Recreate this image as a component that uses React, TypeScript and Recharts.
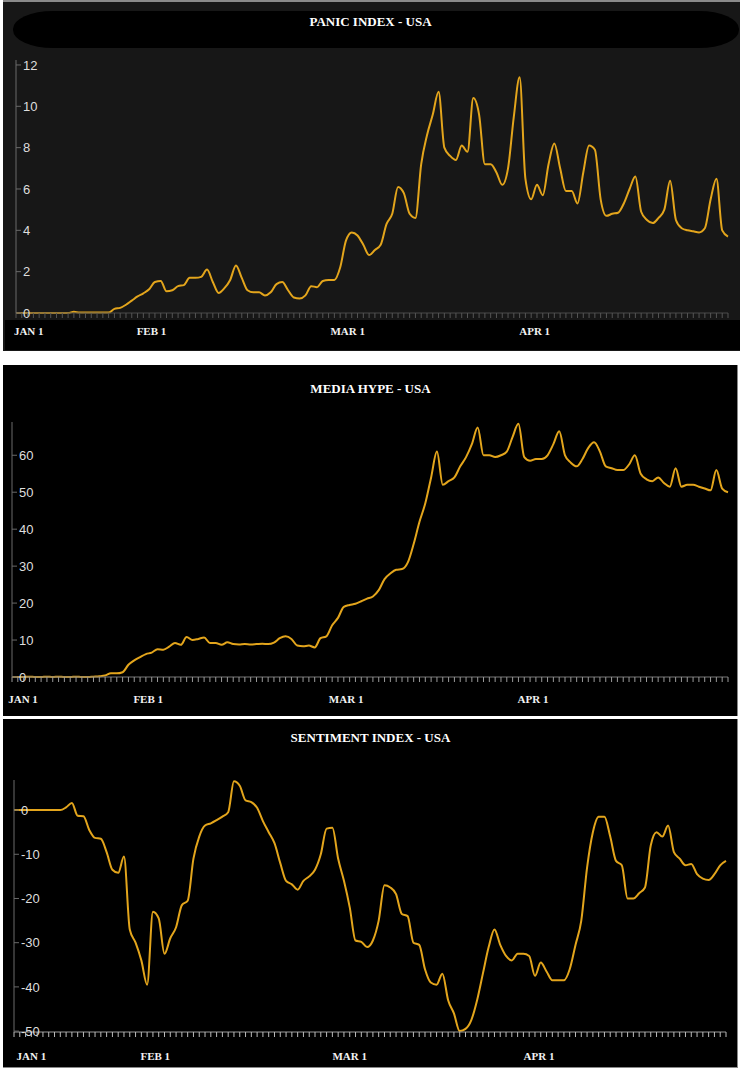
import React from "react";
import { LineChart, Line, XAxis, YAxis } from "recharts";

// one point per day, 124 days
const dayIndex = Array.from({ length: 124 }, (_, i) => i);

const monthLabels = ["JAN 1", "FEB 1", "MAR 1", "APR 1"];

// where each month label sits on the day axis (per panel, as drawn)
const panicMonthAt = [2.2, 23.4, 57.3, 89.6];
const mediaMonthAt = [1.9, 23.4, 57.4, 89.5];
const sentimentMonthAt = [3.0, 24.4, 58.0, 90.7];

const panicIndex = [
  0, 0, 0, 0, 0, 0, 0, 0, 0, 0,
  0.06, 0.02, 0.02, 0.02, 0.02, 0.02, 0.02, 0.2, 0.25, 0.4,
  0.6, 0.8, 0.95, 1.15, 1.5, 1.55, 1.05, 1.1, 1.3, 1.35,
  1.7, 1.7, 1.75, 2.1, 1.5, 0.97, 1.2, 1.6, 2.3, 1.7,
  1.1, 1.0, 1.0, 0.85, 1.0, 1.4, 1.5, 1.1, 0.75, 0.7,
  0.85, 1.3, 1.25, 1.55, 1.6, 1.6, 2.2, 3.5, 3.9, 3.75,
  3.3, 2.8, 3.05, 3.3, 4.3, 4.8, 6.1, 5.8, 4.8, 4.6,
  7.2, 8.6, 9.6, 10.7, 8.0, 7.6, 7.4, 8.1, 7.8, 10.4,
  9.6, 7.2, 7.2, 6.8, 6.2, 7.0, 9.5, 11.4, 6.5, 5.5,
  6.2, 5.7, 7.2, 8.2, 7.0, 5.9, 5.9, 5.3, 6.8, 8.1,
  7.9, 5.5, 4.7, 4.8, 4.85, 5.3, 6.0, 6.6, 4.9, 4.5,
  4.35, 4.6, 5.0, 6.4, 4.5, 4.1, 4.0, 3.95, 3.9, 4.1,
  5.5, 6.5, 4.0, 3.7,
];

const mediaHype = [
  0, 0, 0, 0.1, 0, 0, 0.1, 0, 0.1, 0,
  0, 0.1, 0, 0, 0.1, 0.2, 0.4, 1.0, 1.0, 1.3,
  3.3, 4.5, 5.4, 6.2, 6.6, 7.5, 7.4, 8.2, 9.2, 8.7,
  10.8, 10.0, 10.3, 10.7, 9.2, 9.2, 8.7, 9.4, 8.9, 8.8,
  8.9, 8.8, 8.9, 9.0, 8.9, 9.3, 10.5, 11.0, 10.3, 8.5,
  8.3, 8.5, 8.0, 10.5, 11.0, 14.0, 16.0, 19.0, 19.5, 19.8,
  20.5, 21.2, 21.8, 23.5, 26.5, 28.0, 29.0, 29.2, 31.0, 36.0,
  42, 47, 54, 61, 52, 53, 54, 57, 59.5, 63,
  67.5, 60, 60, 59.5, 60, 61, 65, 68.5, 59.5, 58.5,
  59, 59, 60, 63, 66.5, 60, 58, 57, 59, 62,
  63.5, 61, 57, 56.5, 56, 56, 57.5, 60, 55, 53.5,
  53, 54, 52.5, 51.5, 56.5, 51.5, 52, 52, 51.5, 51,
  50.5, 56, 51, 50,
];

const sentimentIndex = [
  0, 0, 0, 0, 0, 0, 0, 0, 0, 0.6,
  1.6, -1.3, -1.4, -4.5, -6.3, -6.5, -9.5, -13.5, -14.2, -10.5,
  -27, -30, -34, -39.5, -23, -24.5, -32.5, -29, -26.5, -21.5,
  -20.5, -11, -6, -3.5, -3, -2.3, -1.5, -0.5, 6.5, 5.5,
  2.2, 1.8, 0.5, -2.5, -5, -7.5, -12, -16, -16.8, -18,
  -16, -15, -13.5, -10, -4.2, -4, -11, -16, -22, -29.5,
  -29.8, -31, -29.5, -25, -17, -17.5, -19, -23.5, -24, -30,
  -30.5, -36, -39, -39.5, -37, -43, -46, -50, -49.5, -47.5,
  -43, -37, -31, -27, -30.5, -33, -34, -32.5, -32.5, -33,
  -37.5, -34.5, -36.5, -38.5, -38.5, -38.5, -36, -30.5, -25, -13,
  -5, -1.5, -1.5, -6, -11.5, -12.5, -20, -20, -18.8, -17.5,
  -8, -5, -6, -3.5, -9.5, -11, -12.5, -12.2, -14.5, -15.5,
  -15.8, -14.5, -12.5, -11.5,
];

const panicTicks = [0, 2, 4, 6, 8, 10, 12];
const mediaTicks = [0, 10, 20, 30, 40, 50, 60];
const sentimentTicks = [-50, -40, -30, -20, -10, 0];

const LINE_COLOR = "#e3a51c";
const SANS = "'Liberation Sans', Arial, sans-serif";
const SERIF = "'Liberation Serif', 'Times New Roman', serif";

type PanelChartProps = {
  values: number[];
  top: number;
  height: number;
  margin: { top: number; right: number; bottom: number; left: number };
  yDomain: [number, number];
  yTicks: number[];
  monthAt: number[];
  monthMargin: number;
  monthHeight: number;
  axisColor: string;
  tickColor: string;
};

function PanelChart({
  values,
  top,
  height,
  margin,
  yDomain,
  yTicks,
  monthAt,
  monthMargin,
  monthHeight,
  axisColor,
  tickColor,
}: PanelChartProps) {
  const data = dayIndex.map((d, i) => ({ day: d, value: values[i] }));

  return (
    <div style={{ position: "absolute", left: 0, top }}>
      <LineChart width={741} height={height} data={data} margin={margin}>
        {/* daily tick marks, no text */}
        <XAxis
          dataKey="day"
          type="number"
          domain={[0, 123]}
          ticks={dayIndex}
          interval={0}
          tickFormatter={() => ""}
          tickSize={5}
          height={8}
          stroke={axisColor}
          tickLine={{ stroke: tickColor }}
        />
        {/* month labels */}
        <XAxis
          xAxisId="months"
          type="number"
          domain={[0, 123]}
          ticks={monthAt}
          interval={0}
          axisLine={false}
          tickLine={false}
          tickSize={0}
          tickMargin={monthMargin}
          height={monthHeight}
          tickFormatter={(v: number) => monthLabels[monthAt.indexOf(v)] ?? ""}
          tick={{
            fill: "#f2f2f2",
            fontSize: 11,
            fontWeight: 700,
            fontFamily: SERIF,
          }}
        />
        <YAxis
          mirror
          type="number"
          domain={yDomain}
          ticks={yTicks}
          interval={0}
          stroke="#6a6a6a"
          tickSize={5}
          tick={{ fill: "#dedede", fontSize: 13, fontFamily: SANS }}
        />
        <Line
          dataKey="value"
          type="monotone"
          stroke={LINE_COLOR}
          strokeWidth={2}
          dot={false}
          isAnimationActive={false}
        />
      </LineChart>
    </div>
  );
}

function Title({ text, top }: { text: string; top: number }) {
  return (
    <div
      style={{
        position: "absolute",
        left: 0,
        width: 741,
        top,
        textAlign: "center",
        color: "#fff",
        fontFamily: SERIF,
        fontWeight: 700,
        fontSize: 13,
        lineHeight: "16px",
      }}
    >
      {text}
    </div>
  );
}

export default function App() {
  return (
    <div
      style={{
        position: "absolute",
        left: 0,
        top: 0,
        width: 741,
        height: 1072,
        background: "#fff",
        overflow: "hidden",
      }}
    >
      {/* panel 1 */}
      <div
        style={{
          position: "absolute",
          left: 3,
          top: 0,
          width: 737,
          height: 351,
          background: "#171717",
          borderTop: "2px solid #8a8a8a",
          boxSizing: "border-box",
        }}
      />
      <div
        style={{
          position: "absolute",
          left: 13,
          top: 11,
          width: 726,
          height: 37,
          background: "#000",
          borderRadius: "40px / 18px",
        }}
      />
      <div
        style={{
          position: "absolute",
          left: 5,
          top: 320,
          width: 735,
          height: 30,
          background: "#000",
        }}
      />
      <Title text="PANIC INDEX - USA" top={14} />
      <PanelChart
        values={panicIndex}
        top={50}
        height={291}
        margin={{ top: 10, right: 13, bottom: 0, left: 16 }}
        yDomain={[0, 12.24]}
        yTicks={panicTicks}
        monthAt={panicMonthAt}
        monthMargin={6}
        monthHeight={20}
        axisColor="#4a4a4a"
        tickColor="#555"
      />

      {/* panel 2 */}
      <div
        style={{
          position: "absolute",
          left: 3,
          top: 365,
          width: 735,
          height: 351,
          background: "#000",
          borderRight: "1px solid #888",
          boxSizing: "border-box",
        }}
      />
      <Title text="MEDIA HYPE - USA" top={381} />
      <PanelChart
        values={mediaHype}
        top={410}
        height={295}
        margin={{ top: 12, right: 13, bottom: 0, left: 12 }}
        yDomain={[0, 69]}
        yTicks={mediaTicks}
        monthAt={mediaMonthAt}
        monthMargin={10}
        monthHeight={20}
        axisColor="#777"
        tickColor="#999"
      />

      {/* panel 3 */}
      <div
        style={{
          position: "absolute",
          left: 3,
          top: 719,
          width: 735,
          height: 349,
          background: "#000",
          borderRight: "1px solid #888",
          borderBottom: "1px solid #888",
          boxSizing: "border-box",
        }}
      />
      <Title text="SENTIMENT INDEX - USA" top={730} />
      <PanelChart
        values={sentimentIndex}
        top={770}
        height={294}
        margin={{ top: 10, right: 15, bottom: 0, left: 14 }}
        yDomain={[-50.2, 6.8]}
        yTicks={sentimentTicks}
        monthAt={sentimentMonthAt}
        monthMargin={12}
        monthHeight={24}
        axisColor="#999"
        tickColor="#bbb"
      />
    </div>
  );
}
